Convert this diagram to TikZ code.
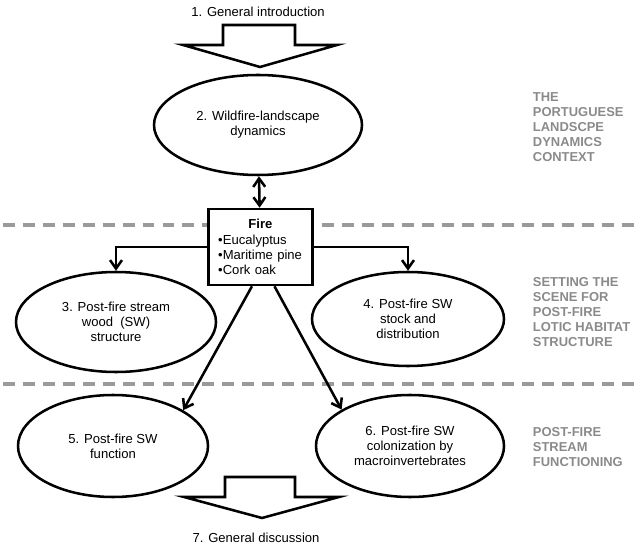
\documentclass[tikz,border=0pt]{standalone}
\usepackage{fontspec}
\setmainfont{Liberation Sans}
\usetikzlibrary{arrows,arrows.meta,shapes.geometric,positioning}
\definecolor{labgray}{HTML}{8A8A8A}
\definecolor{linegray}{HTML}{9A9A9A}
\tikzset{
  txt/.style={font=\fontsize{9.3}{10.8}\selectfont, align=center},
  oval/.style={txt, draw, line width=1.8pt, ellipse, inner sep=0pt},
  firebox/.style={draw, fill=white, line width=1.8pt, inner xsep=7pt, text width=60pt,
    minimum height=1.9cm, font=\fontsize{9.3}{10.9}\selectfont},
  part/.style={font=\fontsize{9.2}{10.6}\selectfont\bfseries, text=labgray, align=left, anchor=west},
  sep/.style={linegray, line width=2.5pt, dash pattern=on 8.5pt off 5.7pt},
  blockarrow/.style={draw, line width=1.8pt, line join=miter},
  >={Straight Barb[length=6pt,width=8.5pt]}
}
\begin{document}
\begin{tikzpicture}[line width=1.8pt]
\useasboundingbox (0,0) rectangle (15.975,13.825);

% dashed separators
\draw[sep] (0.07,8.2) -- (15.975,8.2);
\draw[sep] (0.07,4.225) -- (15.975,4.225);

\node[txt] (1) at (6.45,13.53) {1. General introduction};
\node[oval, minimum width=5.2cm, minimum height=2.5cm] (2) at (6.45,10.7) {2. Wildfire-landscape\\dynamics};
\node[firebox] (fire) at (6.51,7.65) {\centering\textbf{Fire}\par\raggedright
  •Eucalyptus\par •Maritime pine\par •Cork oak};
\node[oval, minimum width=5cm, minimum height=2.5cm] (3) at (2.9,5.775) {3. Post-fire stream\\wood\ \ (SW)\\structure};
\node[oval, minimum width=4.8cm, minimum height=2.35cm] (4) at (10.2,5.85) {4. Post-fire SW\\stock and\\distribution};
\node[oval, minimum width=4.75cm, minimum height=2.55cm] (5) at (2.825,2.675) {5. Post-fire SW\\function};
\node[oval, minimum width=4.7cm, minimum height=2.55cm] (6) at (10.25,2.675) {6. Post-fire SW\\colonization by\\macroinvertebrates};
\node[txt] (7) at (6.4,0.375) {7. General discussion};

% section labels
\node[part] (ctx) at (13.175,10.64) {THE\\PORTUGUESE\\LANDSCPE\\DYNAMICS\\CONTEXT};
\node[part] (scene) at (13.175,6.025) {SETTING THE\\SCENE FOR\\POST-FIRE\\LOTIC HABITAT\\STRUCTURE};
\node[part] (func) at (13.175,2.64) {POST-FIRE\\STREAM\\FUNCTIONING};

% block arrows
\draw[blockarrow] (5.575,13.2) -- (7.375,13.2) -- (7.375,12.7) -- (8.425,12.7)
  -- (6.5,12.15) -- (4.575,12.7) -- (5.575,12.7) -- cycle;
\draw[blockarrow] (5.625,1.9) -- (7.375,1.9) -- (7.375,1.4) -- (8.475,1.4)
  -- (6.55,0.875) -- (4.6,1.4) -- (5.625,1.4) -- cycle;

\draw[<->] (2) to (fire);
\draw[->] (fire.west) -| (3.north);
\draw[->] (fire.east) -| (4.north);
\draw[->] ([xshift=-6pt]fire.south) to (5.27);
\draw[->] ([xshift=10pt]fire.south) to (6.152);
\end{tikzpicture}
\end{document}
